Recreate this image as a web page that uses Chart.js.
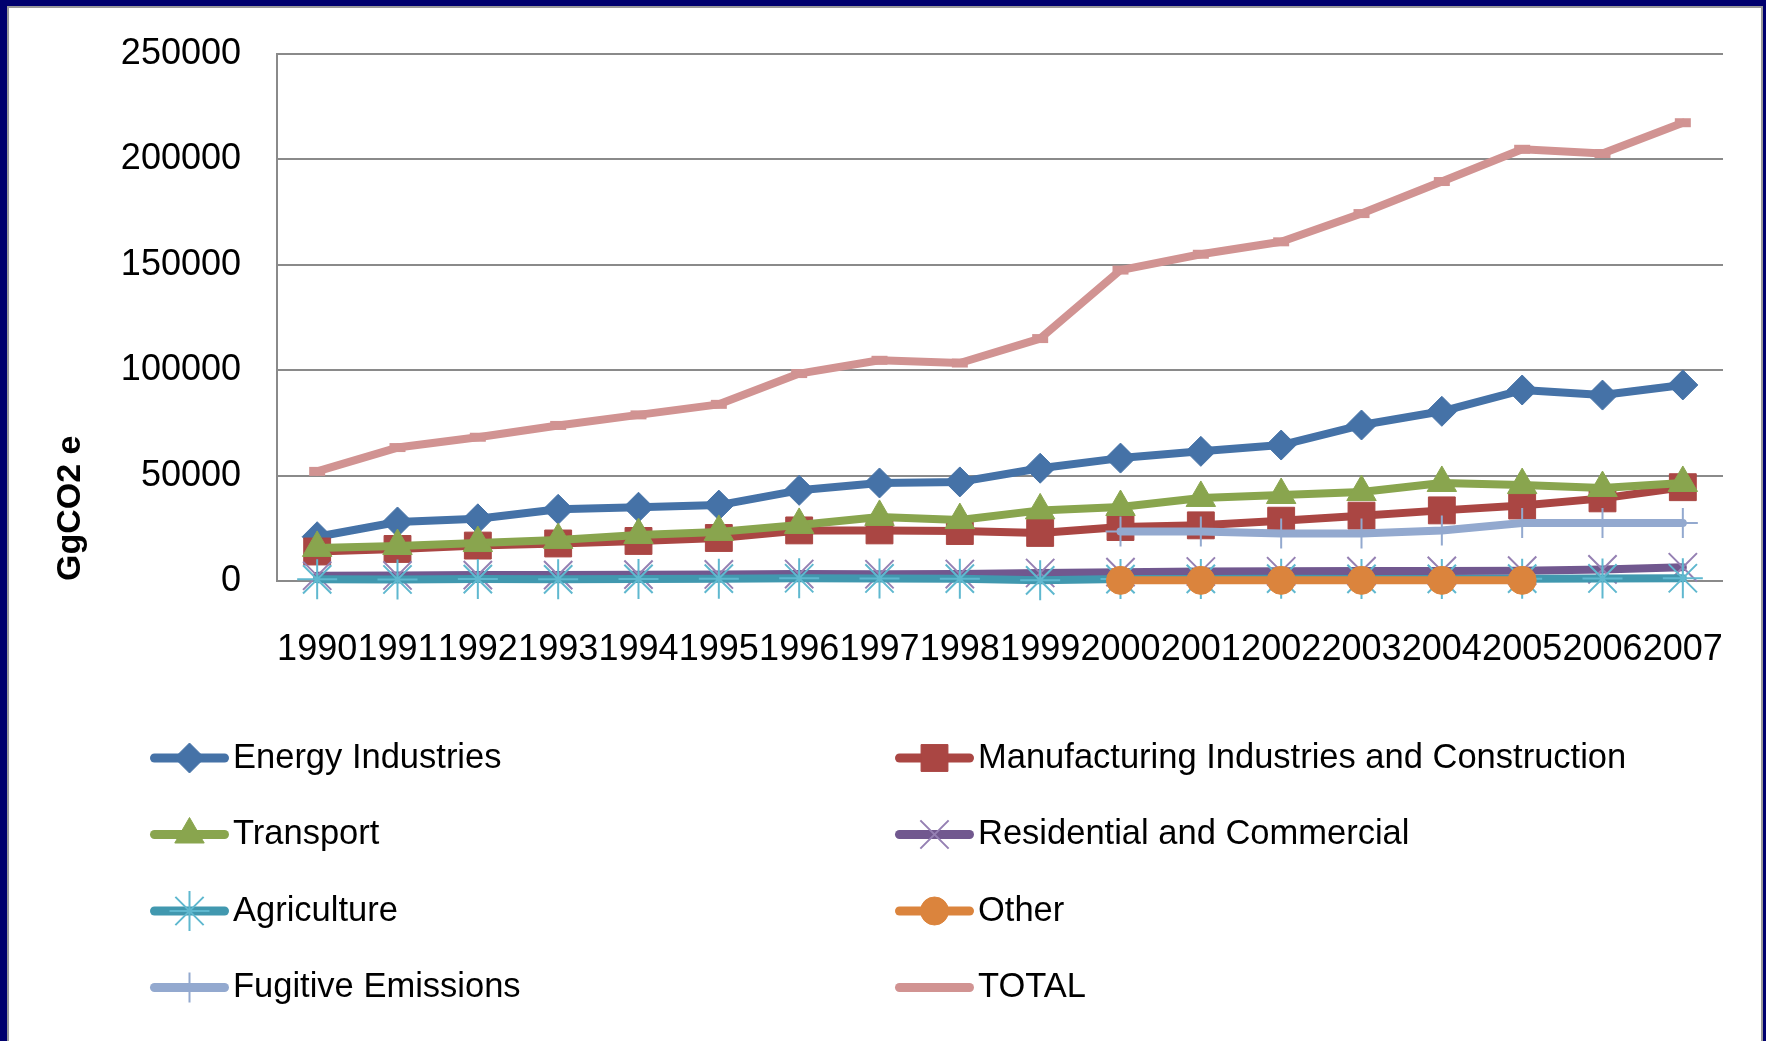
<!DOCTYPE html>
<html>
<head>
<meta charset="utf-8">
<title>GHG emissions by sector, 1990-2007</title>
<script src="https://cdn.jsdelivr.net/npm/chart.js@4.4.1/dist/chart.umd.min.js"></script>
<style>
  html, body { margin: 0; padding: 0; width: 1766px; height: 1041px; overflow: hidden; background: #00006e; }
  #panel {
    position: absolute; left: 7px; top: 6px; width: 1756px; height: 1035px;
    background: #ffffff; box-sizing: border-box;
    border-left: 2px solid #9a9a9a; border-top: 2px solid #9a9a9a; border-right: 2px solid #9a9a9a;
  }
  #wrap { position: absolute; left: 0; top: 0; width: 1766px; height: 1041px; }
</style>
</head>
<body>
<div id="panel"></div>
<div id="wrap"><canvas id="chart" width="1766" height="1041"></canvas></div>
<script>
// Years on the category axis
const years = ['1990', '1991', '1992', '1993', '1994', '1995', '1996', '1997', '1998',
               '1999', '2000', '2001', '2002', '2003', '2004', '2005', '2006', '2007'];

// Emissions per sector, GgCO2 e
const energyIndustries = [21000, 28000, 29500, 34000, 35000, 36000, 43000, 46500, 47000,
                          53500, 58300, 61500, 64500, 74000, 80500, 90600, 88200, 93000];
const manufacturing    = [14000, 15200, 16800, 17800, 19000, 20400, 24000, 24000, 23700,
                          22800, 25600, 26400, 28600, 31000, 33500, 35800, 39200, 44500];
const transport        = [15700, 16600, 18000, 19500, 21800, 23300, 26600, 30400, 28900,
                          33500, 35100, 39400, 40800, 42200, 46500, 45500, 44100, 46500];
const residential      = [2500, 2600, 2800, 2800, 3000, 3100, 3300, 3200, 3300,
                          3800, 4200, 4500, 4600, 4700, 4800, 4900, 5500, 6500];
const agriculture      = [800, 700, 900, 800, 1000, 1100, 1300, 1200, 1100,
                          300, 900, 1000, 1100, 1000, 1000, 1100, 1200, 1300];
const other            = [null, null, null, null, null, null, null, null, null,
                          null, 300, 300, 300, 300, 300, 300, null, null];
const fugitive         = [null, null, null, null, null, null, null, null, null,
                          null, 23500, 23500, 22500, 22500, 24000, 27500, 27500, 27500];
const total            = [52000, 63300, 68200, 73800, 78800, 83800, 98400, 104700, 103400,
                          115000, 147500, 155000, 160900, 174300, 189500, 204800, 202800, 217400];

// Value axis
const yTickValues = [0, 50000, 100000, 150000, 200000, 250000];
const yTitle = 'GgCO2 e';

const seriesNames = ['Energy Industries', 'Manufacturing Industries and Construction',
                     'Transport', 'Residential and Commercial', 'Agriculture', 'Other',
                     'Fugitive Emissions', 'TOTAL'];
const seriesData = [energyIndustries, manufacturing, transport, residential,
                    agriculture, other, fugitive, total];

// Line colour, marker shape, marker radius, marker fill/stroke colour, marker stroke width
const seriesStyle = [
  { color: '#4572a7', marker: 'rectRot',  r: 15, mcol: '#4572a7', mw: 1 },
  { color: '#aa4643', marker: 'rect',     r: 19, mcol: '#aa4643', mw: 1 },
  { color: '#89a54e', marker: 'triangle', r: 17, mcol: '#89a54e', mw: 1 },
  { color: '#71588f', marker: 'crossRot', r: 20, mcol: '#9580b3', mw: 2 },
  { color: '#4198af', marker: 'star',     r: 20, mcol: '#5fb8cf', mw: 2 },
  { color: '#db843d', marker: 'circle',   r: 14, mcol: '#db843d', mw: 1 },
  { color: '#93a9cf', marker: 'cross',    r: 15, mcol: '#93a9cf', mw: 2 },
  { color: '#d19392', marker: 'line',     r: 8,  mcol: '#d19392', mw: 9, noLegendMarker: true }
];

const FONT = "'Liberation Sans', Arial, sans-serif";
const N = seriesNames.length;

const datasets = seriesNames.map((name, i) => {
  const s = seriesStyle[i];
  return {
    label: name,
    data: seriesData[i],
    borderColor: s.color,
    backgroundColor: s.color,
    borderWidth: 8,
    borderJoinStyle: 'round',
    borderCapStyle: 'round',
    tension: 0,
    spanGaps: false,
    pointStyle: s.marker,
    pointRadius: s.r,
    pointHoverRadius: s.r,
    pointBackgroundColor: s.mcol,
    pointBorderColor: s.mcol,
    pointBorderWidth: s.mw,
    clip: false,
    order: N - i,            // later series are painted on top
    legendMarker: !s.noLegendMarker
  };
});

// Fallback marker painter in case helpers are not exposed
function paintPoint(ctx, opts, x, y) {
  if (Chart.helpers && Chart.helpers.drawPoint) {
    Chart.helpers.drawPoint(ctx, opts, x, y);
    return;
  }
  ctx.beginPath();
  ctx.arc(x, y, opts.radius, 0, Math.PI * 2);
  ctx.fill();
}

// Two-column legend below the plot
const LEGEND = { left: 150, top: 758, colGap: 745, rowGap: 76.5, lineLen: 79, lineWidth: 9, gap: 4, fontSize: 34.5 };

const gridLegend = {
  id: 'gridLegend',
  afterDraw(chart) {
    const ctx = chart.ctx;
    ctx.save();
    chart.data.datasets.forEach((d, i) => {
      const col = i % 2;
      const row = Math.floor(i / 2);
      const x0 = LEGEND.left + col * LEGEND.colGap;
      const y = LEGEND.top + row * LEGEND.rowGap;
      const half = LEGEND.lineWidth / 2;
      ctx.strokeStyle = d.borderColor;
      ctx.lineWidth = LEGEND.lineWidth;
      ctx.lineCap = 'round';
      ctx.beginPath();
      ctx.moveTo(x0 + half, y);
      ctx.lineTo(x0 + LEGEND.lineLen - half, y);
      ctx.stroke();
      if (d.legendMarker) {
        ctx.fillStyle = d.pointBackgroundColor;
        ctx.strokeStyle = d.pointBorderColor;
        ctx.lineWidth = d.pointBorderWidth;
        ctx.lineCap = 'butt';
        paintPoint(ctx, { pointStyle: d.pointStyle, rotation: 0, radius: d.pointRadius,
                          borderWidth: d.pointBorderWidth }, x0 + LEGEND.lineLen / 2, y);
      }
      ctx.fillStyle = '#000000';
      ctx.font = LEGEND.fontSize + 'px ' + FONT;
      ctx.textAlign = 'left';
      ctx.textBaseline = 'middle';
      ctx.fillText(d.label, x0 + LEGEND.lineLen + LEGEND.gap, y);
    });
    ctx.restore();
  }
};

const CLEAR = 'rgba(0,0,0,0)';

new Chart(document.getElementById('chart'), {
  type: 'line',
  data: { labels: years, datasets: datasets },
  plugins: [gridLegend],
  options: {
    responsive: false,
    animation: false,
    events: [],
    layout: { padding: { left: 0, right: 43, top: 54, bottom: 0 } },
    plugins: {
      legend: { display: false },
      tooltip: { enabled: false }
    },
    scales: {
      x: {
        type: 'category',
        offset: true,
        // invisible tick marks keep the labels clear of the axis
        grid: { display: true, color: CLEAR, tickColor: CLEAR, drawTicks: true, tickLength: 47, offset: true },
        border: { display: false },
        ticks: {
          autoSkip: false, maxRotation: 0, minRotation: 0, padding: 0,
          color: '#000000', font: { family: FONT, size: 36 }
        },
        afterFit(scale) { scale.height = 460; }
      },
      y: {
        min: 0,
        max: 250000,
        afterBuildTicks(scale) { scale.ticks = yTickValues.map(v => ({ value: v })); },
        grid: { color: '#8a8a8a', lineWidth: 2, drawTicks: true, tickLength: 36, tickColor: CLEAR },
        border: { display: true, color: '#8a8a8a', width: 2 },
        ticks: {
          padding: 0, color: '#000000', font: { family: FONT, size: 36 },
          callback: v => String(v)
        },
        title: {
          display: true, text: yTitle, align: 'start', color: '#000000',
          font: { family: FONT, size: 34, weight: 'bold' },
          padding: { top: 50, bottom: 0 }
        },
        afterFit(scale) { scale.width = 277; }
      }
    }
  }
});
</script>
</body>
</html>
